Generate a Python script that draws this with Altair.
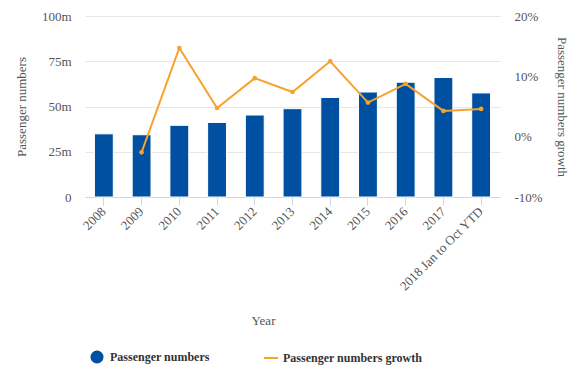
import altair as alt
import pandas as pd

years = ["2008", "2009", "2010", "2011", "2012", "2013", "2014", "2015", "2016", "2017", "2018 Jan to Oct YTD"]
passengers = [34.9, 34.4, 39.6, 41.2, 45.3, 48.8, 55.0, 58.0, 63.4, 66.0, 57.5]  # millions
growth = [None, -2.6, 14.7, 4.75, 9.7, 7.4, 12.5, 5.65, 8.75, 4.27, 4.6]  # percent

BLUE = "#0050a2"
ORANGE = "#f7a22e"
FONT = "Liberation Serif"

df = pd.DataFrame({
    "Year": years,
    "passengers": passengers,
    "growth": growth,
    "s1": ["Passenger numbers"] * len(years),
    "s2": ["Passenger numbers growth"] * len(years),
})

x = alt.X(
    "Year:N",
    sort=years,
    scale=alt.Scale(paddingInner=0.5, paddingOuter=0.25),
    axis=alt.Axis(
        title="Year", labelAngle=-45, labelAlign="right", labelBaseline="middle",
        domainColor="#ccd6eb", tickColor="#ccd6eb", tickSize=8, labelPadding=4,
        grid=False, titleX=178, titleY=123, titleBaseline="middle", titleAlign="center",
    ),
)

growth_axis = alt.Axis(
    title="Passenger numbers growth", values=[-10, 0, 10, 20],
    labelExpr="datum.value + '%'", domain=False, ticks=False,
    labelPadding=14, titlePadding=12, orient="right",
    gridColor="#e6e6e6", gridDash=[6, 4],
)
growth_scale = alt.Scale(domain=[-10, 20], nice=False)

bars = alt.Chart(df).mark_bar(stroke="white", strokeWidth=1).encode(
    x=x,
    y=alt.Y(
        "passengers:Q",
        scale=alt.Scale(domain=[0, 100], nice=False),
        axis=alt.Axis(
            title="Passenger numbers", values=[0, 25, 50, 75, 100],
            labelExpr="datum.value == 0 ? '0' : datum.value + 'm'",
            domain=False, ticks=False, labelPadding=14, titlePadding=13,
            gridColor="#e6e6e6", orient="left",
        ),
    ),
    color=alt.Color(
        "s1:N",
        scale=alt.Scale(domain=["Passenger numbers"], range=[BLUE]),
        legend=alt.Legend(
            title=None, orient="none", legendX=5, legendY=334, symbolType="circle",
            symbolSize=170, labelFontWeight="bold", labelFontSize=12,
            labelColor="#333333", labelOffset=6, symbolStrokeWidth=0,
        ),
    ),
)

line = alt.Chart(df).mark_line(strokeWidth=2).encode(
    x=x,
    y=alt.Y("growth:Q", scale=growth_scale, axis=growth_axis),
    stroke=alt.Stroke(
        "s2:N",
        scale=alt.Scale(domain=["Passenger numbers growth"], range=[ORANGE]),
        legend=alt.Legend(
            title=None, orient="none", legendX=178, legendY=334, symbolType="stroke",
            symbolSize=196, symbolStrokeWidth=2, labelFontWeight="bold", labelFontSize=12,
            labelColor="#333333", labelOffset=4,
        ),
    ),
)

points = alt.Chart(df).mark_point(filled=True, size=22, opacity=1, color=ORANGE).encode(
    x=x,
    y=alt.Y("growth:Q", scale=growth_scale, axis=growth_axis),
)

growth_layer = alt.layer(line, points)

chart = alt.layer(bars, growth_layer).resolve_scale(
    y="independent", color="independent", stroke="independent"
).properties(
    width=415, height=181,
    autosize=alt.AutoSizeParams(type="none"),
    padding={"left": 77, "top": 8, "right": 72, "bottom": 175},
).configure(
    font=FONT,
).configure_axis(
    labelFont=FONT, titleFont=FONT, labelFontSize=13, titleFontSize=13,
    labelColor="#555555", titleColor="#555555", titleFontWeight="normal",
).configure_legend(
    labelFont=FONT,
).configure_view(
    stroke=None,
)

chart.save("out.html", embed_options={"renderer": "svg", "actions": False})
